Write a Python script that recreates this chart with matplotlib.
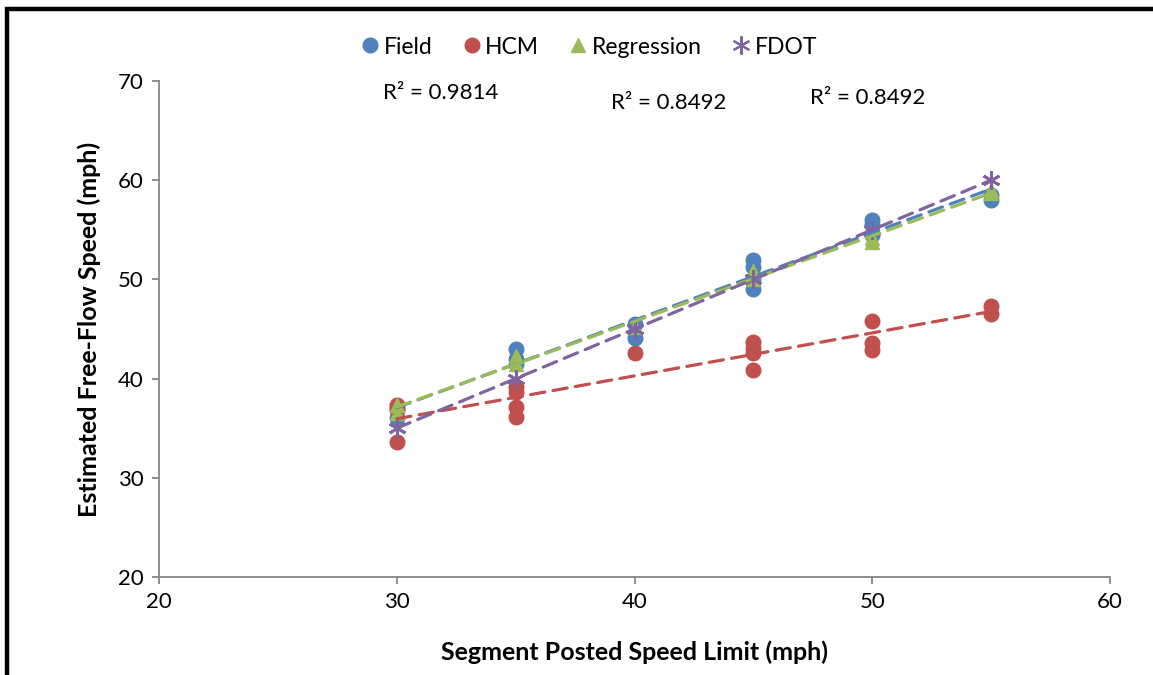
import numpy as np
import matplotlib
matplotlib.use("Agg")
import matplotlib.pyplot as plt
from matplotlib.patches import Rectangle
from matplotlib.lines import Line2D

# ---- data ----
field_x = [30, 30, 35, 35, 35, 40, 40, 45, 45, 45, 45, 50, 50, 50, 55, 55]
field_y = [36.0, 37.0, 43.0, 42.0, 41.5, 44.1, 45.5, 52.0, 51.3, 50.0, 49.0, 56.0, 55.5, 54.5, 58.0, 58.5]

hcm_x = [30, 30, 30, 35, 35, 35, 35, 40, 45, 45, 45, 45, 50, 50, 50, 55, 55]
hcm_y = [37.3, 36.8, 33.6, 39.2, 38.6, 37.1, 36.1, 42.6, 43.7, 43.1, 42.6, 40.9, 45.8, 43.6, 42.9, 47.3, 46.5]

reg_x = [30, 30, 35, 35, 40, 45, 45, 50, 50, 55, 55]
reg_y = [37.3, 36.5, 42.3, 41.5, 45.2, 50.8, 50.0, 54.2, 53.8, 59.0, 58.7]

fdot_x = [30, 35, 40, 45, 50, 55]
fdot_y = [35, 40, 45, 50, 55, 60]

series_names = ["Field", "HCM", "Regression", "FDOT"]
colors = ["#4F81BD", "#C0504D", "#9BBB59", "#8064A2"]

r2_labels = ["R² = 0.9814", "R² = 0.8492", "R² = 0.8492"]
r2_pos = [(29.42, 68.8), (39.0, 67.8), (47.4, 68.3)]

x_ticks = [20, 30, 40, 50, 60]
y_ticks = [20, 30, 40, 50, 60, 70]

plt.rcParams['font.family'] = ['Lato', 'DejaVu Sans']

fig = plt.figure(figsize=(11.53, 6.75), dpi=100)
ax = fig.add_axes([159/1153, 1-577/675, (1110-159)/1153, (577-81)/675])

star = (6, 2, 0)
ax.plot(field_x, field_y, 'o', color=colors[0], ms=10.5, mec=colors[0], zorder=3)
ax.plot(hcm_x, hcm_y, 'o', color=colors[1], ms=10.5, mec=colors[1], zorder=3)
ax.plot(reg_x, reg_y, '^', color=colors[2], ms=10.5, mec=colors[2], zorder=3)
ax.plot(fdot_x, fdot_y, marker=star, ls='none', color=colors[3], ms=13, mew=2, zorder=3)

xs = np.array([30, 55])
for (sx, sy), c in zip([(field_x, field_y), (hcm_x, hcm_y), (reg_x, reg_y), (fdot_x, fdot_y)], colors):
    p = np.polyfit(sx, sy, 1)
    ax.plot(xs, np.polyval(p, xs), color=c, lw=2.3, ls=(0, (4.5, 2.6)),
            dash_capstyle='round', zorder=4)

for t, (tx, ty) in zip(r2_labels, r2_pos):
    ax.text(tx, ty, t, fontsize=16, va='center', ha='left', color='black')

ax.set_xlim(20, 60)
ax.set_ylim(20, 70)
ax.set_xticks(x_ticks)
ax.set_yticks(y_ticks)
ax.tick_params(axis='both', direction='out', length=5, width=1.3, color='#868686',
               labelsize=16, pad=6)
for s in ['top', 'right']:
    ax.spines[s].set_visible(False)
for s in ['left', 'bottom']:
    ax.spines[s].set_color('#868686')
    ax.spines[s].set_linewidth(1.3)

ax.set_xlabel("Segment Posted Speed Limit (mph)", fontsize=18, fontweight='bold', labelpad=20)
ax.set_ylabel("Estimated Free-Flow Speed (mph)", fontsize=18, fontweight='bold', labelpad=12)

handles = [
    Line2D([], [], marker='o', ls='none', color=colors[0], ms=10.5),
    Line2D([], [], marker='o', ls='none', color=colors[1], ms=10.5),
    Line2D([], [], marker='^', ls='none', color=colors[2], ms=10.5),
    Line2D([], [], marker=star, ls='none', color=colors[3], ms=13, mew=1.5),
]
fig.legend(handles, series_names, loc='center', bbox_to_anchor=(588/1153, 1-47/675),
           ncol=4, frameon=False, fontsize=16.5, handletextpad=0.1, columnspacing=1.2,
           handlelength=1.0)

# outer frame (black border at left and top)
fig.patches.append(Rectangle((7/1153, -0.2), 1.5, 1.2 - 8.5/675, transform=fig.transFigure,
                             fill=False, edgecolor='black', lw=3.2, clip_on=False))

fig.savefig("out.png", dpi=100)
